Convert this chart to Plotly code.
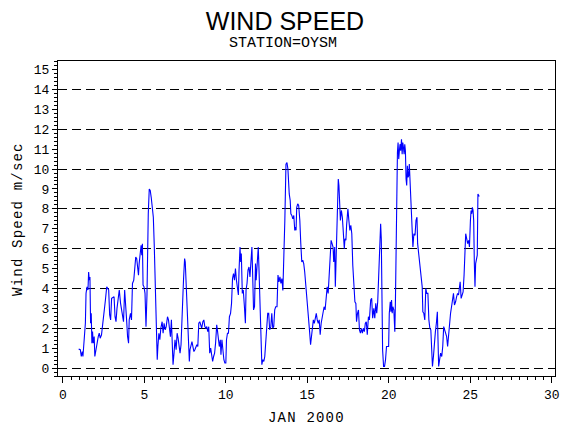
import plotly.graph_objects as go

# Day of January 2000 (fractional) and wind speed (m/sec)
DAY = [
    0.97, 1.07, 1.13, 1.19, 1.23, 1.28, 1.32, 1.38, 1.42, 1.48, 1.54, 1.58, 1.62, 1.66, 1.70, 1.74, 1.78, 1.82, 1.86, 1.92,
    1.96, 2.02, 2.09, 2.17, 2.23, 2.29, 2.37, 2.45, 2.53, 2.61, 2.69, 2.77, 2.81, 2.87, 2.93, 2.99, 3.08, 3.14, 3.20, 3.26,
    3.32, 3.40, 3.46, 3.54, 3.60, 3.66, 3.72, 3.79, 3.85, 3.91, 3.97, 4.03, 4.07, 4.15, 4.21, 4.27, 4.35, 4.41, 4.47, 4.53,
    4.60, 4.64, 4.68, 4.74, 4.80, 4.84, 4.88, 4.92, 4.98, 5.04, 5.10, 5.16, 5.20, 5.24, 5.30, 5.36, 5.42, 5.49, 5.55, 5.61,
    5.67, 5.73, 5.79, 5.83, 5.89, 5.95, 6.01, 6.09, 6.15, 6.21, 6.28, 6.34, 6.42, 6.48,
    6.60, 6.66, 6.72, 6.76, 6.82, 6.88, 6.95, 7.01, 7.07, 7.13, 7.19, 7.25, 7.31, 7.37, 7.41, 7.47, 7.51, 7.57, 7.63, 7.69,
    7.76, 7.80, 7.86, 7.92, 7.98, 8.04, 8.10, 8.16, 8.22, 8.28, 8.34, 8.40, 8.46, 8.52, 8.59, 8.65, 8.71, 8.77, 8.83, 8.89,
    8.95, 9.01, 9.07, 9.13, 9.19, 9.25, 9.31, 9.37, 9.44, 9.48, 9.54, 9.60, 9.66, 9.70, 9.76, 9.82, 9.88, 9.94, 10.00, 10.04,
    10.10, 10.16, 10.22, 10.29, 10.35, 10.41, 10.47, 10.53, 10.59, 10.65, 10.71, 10.77, 10.81, 10.87, 10.91, 10.95, 11.01,
    11.07, 11.14, 11.20, 11.24, 11.30, 11.36, 11.42, 11.48, 11.54, 11.60, 11.66, 11.70, 11.76, 11.82, 11.86, 11.93, 11.99,
    12.03, 12.09, 12.15, 12.21, 12.27, 12.33, 12.39, 12.45, 12.51, 12.57, 12.63, 12.69, 12.76, 12.82, 12.88, 12.94, 13.00,
    13.06, 13.14,
    13.20, 13.26, 13.32, 13.38, 13.44, 13.50, 13.56, 13.62, 13.69, 13.75, 13.81, 13.85, 13.89, 13.95, 13.99, 14.05, 14.11,
    14.17, 14.23, 14.27, 14.31, 14.35, 14.41, 14.47, 14.54, 14.60, 14.66, 14.72, 14.78, 14.84, 14.90, 14.96, 15.02, 15.08,
    15.14, 15.20, 15.24, 15.30, 15.37, 15.43, 15.49, 15.55, 15.61, 15.67, 15.73, 15.79, 15.85, 15.91, 15.97, 16.03, 16.09,
    16.15, 16.22, 16.28, 16.34, 16.40, 16.46, 16.52, 16.58, 16.62, 16.68, 16.72, 16.76, 16.82, 16.86, 16.90, 16.94, 16.98,
    17.03, 17.09, 17.15, 17.19, 17.23, 17.27, 17.31, 17.37, 17.41, 17.45, 17.49, 17.55, 17.61, 17.67, 17.73, 17.79, 17.86,
    17.92, 17.98, 18.02, 18.08, 18.14, 18.20, 18.26, 18.32, 18.38, 18.44, 18.50, 18.56, 18.62,
    18.68, 18.75, 18.81, 18.89, 18.95, 19.01, 19.08, 19.14, 19.20, 19.26, 19.32, 19.36, 19.40, 19.44, 19.50, 19.54, 19.58,
    19.62, 19.68, 19.74, 19.80, 19.86, 19.93, 19.99, 20.03, 20.09, 20.13, 20.17, 20.21, 20.25, 20.31, 20.37, 20.41, 20.45,
    20.49, 20.53, 20.57, 20.61, 20.65, 20.69, 20.73, 20.78, 20.82, 20.86, 20.90, 20.94, 20.98, 21.02, 21.06, 21.10, 21.14,
    21.18, 21.22, 21.26, 21.30, 21.36, 21.42, 21.48, 21.54, 21.61, 21.67, 21.73, 21.77, 21.83, 21.89, 21.93, 21.99, 22.05,
    22.09, 22.15, 22.21, 22.27, 22.33, 22.40, 22.46, 22.52, 22.58, 22.64, 22.68, 22.74, 22.80, 22.86, 22.92, 22.98, 23.02,
    23.06, 23.12, 23.18, 23.25, 23.31, 23.37, 23.43, 23.49, 23.55, 23.61, 23.67, 23.73, 23.79, 23.85, 23.91, 23.97, 24.03,
    24.10, 24.16, 24.22, 24.28, 24.34, 24.38, 24.44, 24.50, 24.56, 24.62, 24.68, 24.72, 24.78, 24.84, 24.90, 24.95, 25.01,
    25.05, 25.09, 25.13, 25.17, 25.21, 25.25, 25.29, 25.33, 25.39, 25.43, 25.47, 25.51, 25.55,
]

SPEED = [
    0.95, 0.92, 0.58, 0.83, 0.58, 1.08, 1.92, 2.25, 3.75, 4.08, 3.92, 4.83, 4.42, 4.58, 2.25, 2.75, 1.25, 1.83, 1.25, 1.58,
    0.58, 0.92, 1.33, 1.58, 1.75, 1.50, 1.67, 2.17, 2.92, 3.42, 4.08, 4.00, 3.92, 2.67, 2.42, 3.50, 3.58, 3.58, 2.58, 2.33,
    3.00, 3.67, 3.92, 3.25, 3.00, 2.58, 2.33, 3.92, 3.33, 2.42, 1.58, 1.25, 2.42, 2.75, 2.42, 4.25, 4.42, 5.33, 5.58, 5.50,
    4.92, 4.67, 5.25, 6.00, 6.17, 5.67, 6.25, 4.17, 4.08, 3.75, 2.08, 3.67, 6.50, 7.75, 9.00, 8.92, 8.58, 8.17, 7.58, 6.08,
    4.50, 2.25, 0.42, 1.08, 1.75, 1.42, 2.00, 2.33, 1.75, 2.25, 1.92, 2.08, 2.58, 2.42,
    1.58, 2.42, 1.25, 0.17, 0.75, 1.42, 0.92, 1.75, 1.50, 1.08, 0.75, 1.17, 3.08, 3.75, 4.58, 5.50, 5.33, 4.08, 3.75, 1.92,
    0.33, 0.92, 1.25, 1.33, 1.08, 0.83, 0.92, 1.08, 1.17, 1.08, 2.25, 2.33, 2.08, 2.00, 2.33, 2.42, 2.08, 2.00, 2.08, 1.83,
    2.08, 0.75, 1.00, 0.75, 0.33, 0.58, 0.75, 1.25, 2.17, 1.92, 1.25, 1.08, 1.42, 0.67, 1.42, 0.83, 0.42, 0.25, 0.25, 1.42,
    1.75, 1.75, 2.58, 2.75, 3.25, 4.50, 4.75, 4.42, 5.00, 4.42, 4.08, 3.67, 4.92, 6.08, 5.33, 5.75, 3.75,
    3.92, 3.08, 2.25, 3.92, 4.25, 4.92, 5.08, 4.58, 5.42, 6.08, 4.25, 2.92, 3.08, 5.25, 4.42, 5.58, 6.08,
    5.08, 3.42, 2.08, 0.17, 0.42, 0.33, 0.58, 1.25, 1.92, 2.75, 2.75, 1.92, 2.08, 2.75, 2.00, 2.08, 2.92,
    3.08, 3.08,
    4.67, 4.33, 4.58, 4.25, 4.50, 3.90, 5.50, 7.40, 10.25, 10.33, 10.00, 9.00, 8.75, 8.42, 7.75, 7.67, 7.50,
    7.67, 6.92, 7.08, 6.92, 8.08, 8.25, 8.17, 7.42, 6.25, 5.33, 5.42, 5.25, 4.83, 4.25, 3.92, 3.08, 2.83,
    1.83, 1.17, 1.50, 2.08, 2.42, 2.25, 2.58, 2.75, 2.42, 2.25, 2.42, 1.67, 2.25, 2.50, 2.67, 3.08, 2.92,
    3.50, 4.08, 3.75, 4.58, 5.08, 6.42, 6.25, 6.08, 5.33, 6.08, 4.08, 5.25, 7.75, 8.75, 9.50, 9.17, 7.92,
    7.42, 7.92, 7.58, 7.08, 6.42, 6.00, 6.50, 6.42, 7.17, 7.58, 8.00, 7.42, 6.92, 7.17, 6.75, 5.17, 4.42,
    3.33, 3.25, 2.33, 2.75, 2.92, 1.92, 1.75, 2.00, 1.75, 2.00, 1.83, 2.25, 2.33,
    1.67, 2.58, 2.42, 3.42, 3.50, 2.50, 3.00, 2.50, 3.25, 2.75, 3.33, 4.25, 4.58, 6.42, 7.25, 6.50, 2.42,
    0.92, 0.08, 0.08, 0.42, 1.08, 1.08, 1.08, 2.75, 3.33, 2.83, 3.42, 2.75, 3.08, 2.92, 1.83, 3.50, 6.58,
    9.50, 10.83, 11.33, 10.50, 10.92, 11.25, 10.92, 11.50, 10.75, 11.33, 11.08, 10.75, 11.25, 10.92, 9.50, 9.17, 10.17,
    9.58, 9.67, 10.25, 9.58, 8.17, 7.00, 6.08, 6.75, 6.67, 7.42, 7.58, 6.25, 5.75, 5.42, 5.08, 4.25, 4.08,
    2.83, 2.75, 2.42, 4.00, 3.75, 3.75, 2.42, 2.00, 1.92, 0.92, 0.08, 0.58, 1.42, 1.83, 2.25, 2.83, 1.42,
    0.08, 0.42, 0.75, 0.58, 1.08, 2.08, 1.92, 1.75, 1.58, 1.08, 1.75, 2.17, 2.75, 3.08, 3.33, 3.75, 3.17,
    3.33, 3.58, 3.75, 3.67, 4.25, 4.33, 3.50, 3.75, 3.83, 4.67, 6.08, 6.75, 6.50, 6.25, 6.42, 6.08, 7.42,
    7.92, 7.75, 8.08, 7.92, 7.42, 5.25, 4.08, 5.25, 5.58, 5.67, 8.75, 8.67, 8.62,
]

X_TICKS = [0, 5, 10, 15, 20, 25, 30]
Y_TICKS = list(range(0, 16))
GRID_STEP = 2

TITLE = "WIND SPEED"
SUBTITLE = "STATION=OYSM"
X_TITLE = "JAN 2000"
Y_TITLE = "Wind Speed m/sec"

TICK_FONT = dict(family="Liberation Mono", size=13, color="black")

FIG_W, FIG_H = 570, 430
ML, MR, MT, MB = 58, 10, 61, 54
PLOT_W = FIG_W - ML - MR
PLOT_H = FIG_H - MT - MB

fig = go.Figure()
fig.add_trace(go.Scatter(
    x=DAY, y=SPEED, mode="lines",
    line=dict(color="#0000ff", width=1.1),
    hoverinfo="skip", showlegend=False,
))
# helper (invisible) trace so the gridline axis is drawn
fig.add_trace(go.Scatter(x=[None], y=[None], yaxis="y2", showlegend=False, hoverinfo="skip"))

fig.update_layout(
    width=FIG_W, height=FIG_H, autosize=False,
    margin=dict(l=ML, r=MR, t=MT, b=MB),
    paper_bgcolor="white", plot_bgcolor="white",
    hovermode=False,
    xaxis=dict(
        range=[-0.3, 30.2], tickvals=X_TICKS, ticks="outside", ticklen=6, tickwidth=1,
        tickcolor="black", showline=True, linecolor="black", linewidth=1, mirror=True,
        showgrid=False, zeroline=False, tickfont=TICK_FONT,
        minor=dict(dtick=0.5, tick0=0, ticks="outside", ticklen=3, tickcolor="black", showgrid=False),
    ),
    yaxis=dict(
        range=[-0.4, 15.43], tickvals=Y_TICKS, ticks="outside", ticklen=5, tickwidth=1,
        tickcolor="black", showline=True, linecolor="black", linewidth=1, mirror=True,
        showgrid=False, zeroline=False, tickfont=TICK_FONT,
        minor=dict(dtick=0.2, tick0=0, ticks="outside", ticklen=3, tickcolor="black", showgrid=False),
    ),
    yaxis2=dict(
        overlaying="y", side="left", range=[-0.4, 15.43], dtick=GRID_STEP, tick0=0,
        showgrid=True, gridcolor="black", gridwidth=1, griddash="9px,5px",
        showticklabels=False, ticks="", showline=False, zeroline=False,
    ),
    title=dict(
        text=TITLE, x=0.5, xanchor="center", y=1 - 21 / FIG_H, yanchor="middle",
        font=dict(family="Liberation Sans", size=25, color="black"),
    ),
    annotations=[
        dict(text=SUBTITLE, xref="paper", yref="paper",
             x=(FIG_W / 2 - ML) / PLOT_W, y=(FIG_H - MB - 44) / PLOT_H,
             xanchor="center", yanchor="middle", showarrow=False,
             font=dict(family="Liberation Mono", size=15, color="black")),
        dict(text=f'<span style="letter-spacing:1.2px">{X_TITLE}</span>', xref="paper", yref="paper",
             x=0.5, y=(FIG_H - MB - 418) / PLOT_H, xanchor="center", yanchor="middle", showarrow=False,
             font=dict(family="Liberation Mono", size=14, color="black")),
        dict(text=f'<span style="letter-spacing:1.2px">{Y_TITLE}</span>', xref="paper", yref="paper",
             x=(17 - ML) / PLOT_W, y=0.5, xanchor="center", yanchor="middle", showarrow=False,
             textangle=-90, font=dict(family="Liberation Mono", size=14, color="black")),
    ],
)

# remove the browser's default page margin so the 570x430 figure fills the window exactly
fig.write_html(
    "out.html",
    config={"displayModeBar": False, "staticPlot": True},
    post_script="document.body.style.margin='0';",
)
